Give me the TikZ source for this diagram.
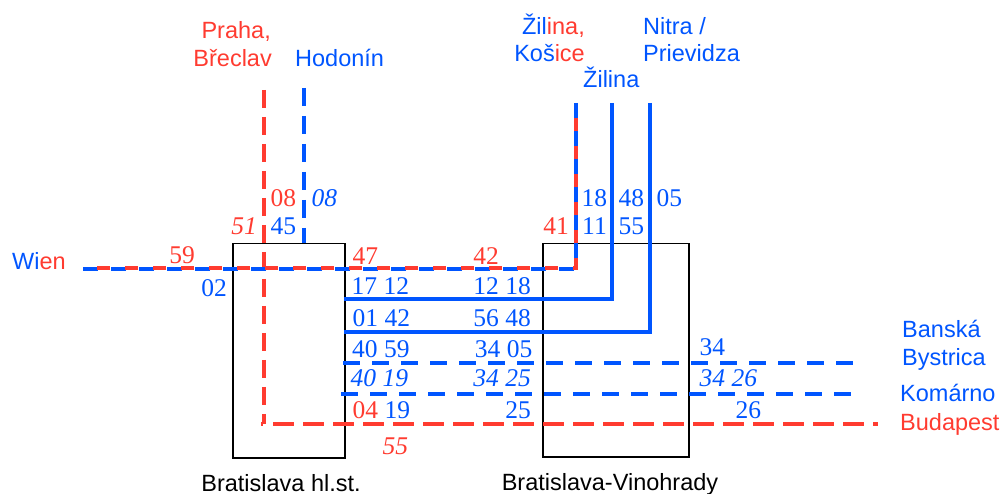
\documentclass[tikz,border=0pt]{standalone}
\usepackage{fontspec}
\setmainfont{Liberation Serif}
\newfontfamily\lab{Liberation Sans}
\definecolor{cr}{RGB}{255,59,48}
\definecolor{cb}{RGB}{0,85,255}
\begin{document}
\begin{tikzpicture}[x=1pt,y=-1pt,
  num/.style={inner sep=0pt,font=\fontsize{25.5}{26}\selectfont},
  inum/.style={num,font=\fontsize{25.5}{26}\selectfont\itshape},
  lbl/.style={inner sep=0pt,font=\lab\fontsize{23.5}{27}\selectfont},
  station/.style={draw=black,line width=1.5pt},
  track/.style={line width=4pt},
  dtrack/.style={line width=4pt,dash pattern=on 18pt off 10pt}]
\useasboundingbox (0,0) rectangle (1002,494);
% stations
\node[station,minimum width=112pt,minimum height=214pt,inner sep=0pt,anchor=north west] (hl) at (232,243) {};
\node[station,minimum width=146pt,minimum height=213pt,inner sep=0pt,anchor=north west] (vin) at (542,243) {};
% coordinates
\coordinate (praT) at (264,90);
\coordinate (praC) at (264,424);
\coordinate (budE) at (878,424);
\coordinate (hodT) at (304,88);
\coordinate (hodB) at (304,243);
\coordinate (wienW) at (76,269);
\coordinate (wienC) at (576,269);
\coordinate (kosT) at (576,103);
\coordinate (zilT) at (612,103);
\coordinate (zilC) at (612,299);
\coordinate (zilW) at (344,299);
\coordinate (nitT) at (650,103);
\coordinate (nitC) at (650,332);
\coordinate (nitW) at (344,332);
\coordinate (bbW) at (343,363);
\coordinate (bbE) at (862,363);
\coordinate (komW) at (341,394);
\coordinate (komE) at (861,394);
% tracks
\draw[cr,line width=4pt,dash pattern=on 18pt off 9pt] (praT) -- (praC);
\draw[cr,line width=4pt,dash pattern=on 21pt off 9pt,dash phase=-9pt] (praC) -- (budE);
\draw[cr,line width=4pt] ([xshift=-3pt]praC) -- ([xshift=-1.5pt]praC);
\draw[dtrack,cb] (hodT) -- (hodB);
\draw[track,cb] (zilT) -- (zilC) -- (zilW);
\draw[track,cb] (nitT) -- (nitC) -- (nitW);
\draw[cb,line width=4pt,dash pattern=on 17pt off 12pt] (bbW) -- (bbE);
\draw[cb,line width=4pt,dash pattern=on 17pt off 12pt] (komW) -- (komE);
\draw[line width=4pt,cb,dash pattern=on 15pt off 13pt] (kosT) -- (wienC) -- (wienW);
\draw[line width=4pt,cr,dash pattern=on 13pt off 15pt,dash phase=-15pt] (kosT) -- ([yshift=1pt]wienC) -- ([yshift=1pt,xshift=15pt]wienW);
% labels
\node[lbl,cr,anchor=base east] (praha) at (271,39) {Praha,};
\node[lbl,cr,anchor=base east] (brec) at (272,66.5) {Břeclav};
\node[lbl,cb,anchor=base west] (hod) at (295,66.5) {Hodonín};
\node[lbl,anchor=base east] (zil1) at (585,35) {\textcolor{cb}{Žil}\textcolor{cr}{ina,}};
\node[lbl,anchor=base east] (kos) at (585,62) {\textcolor{cb}{Koš}\textcolor{cr}{ice}};
\node[lbl,cb,anchor=base west] (zil2) at (583,88) {Žilina};
\node[lbl,cb,anchor=base west] (nit) at (643,35) {Nitra /};
\node[lbl,cb,anchor=base west] (pri) at (643,62) {Prievidza};
\node[lbl,anchor=base west] (wien) at (12,270) {\textcolor{cb}{Wi}\textcolor{cr}{en}};
\node[lbl,cb,anchor=base west] (ban) at (902,338) {Banská};
\node[lbl,cb,anchor=base west] (bys) at (902,366) {Bystrica};
\node[lbl,cb,anchor=base west] (kom) at (900,402) {Komárno};
\node[lbl,cr,anchor=base west] (bud) at (900,431) {Budapest};
\node[lbl,black,anchor=base] (hln) at (281,491) {Bratislava hl.st.};
\node[lbl,black,anchor=base] (vinn) at (610,490) {Bratislava-Vinohrady};
% times
\node[num,cr,anchor=base west] (t1) at (270.5,207) {08};
\node[inum,cb,anchor=base west] (t2) at (311.5,207) {08};
\node[inum,cr,anchor=base east] (t3) at (257,235) {51};
\node[num,cb,anchor=base west] (t4) at (270.5,235) {45};
\node[num,cr,anchor=base] (t5) at (182,264) {59};
\node[num,cb,anchor=base east] (t6) at (227,297) {02};
\node[num,cr,anchor=base west] (t7) at (352.5,265) {47};
\node[num,cr,anchor=base] (t8) at (486,265) {42};
\node[num,cb,anchor=base west] (t9) at (351.5,295) {17 12};
\node[num,cb,anchor=base east] (t10) at (531,295) {12 18};
\node[num,cb,anchor=base west] (t11) at (352.5,327) {01 42};
\node[num,cb,anchor=base east] (t12) at (531,327) {56 48};
\node[num,cb,anchor=base west] (t13) at (352,358) {40 59};
\node[num,cb,anchor=base east] (t14) at (532.5,358) {34 05};
\node[inum,cb,anchor=base west] (t15) at (350.5,387) {40 19};
\node[inum,cb,anchor=base east] (t16) at (531,387) {34 25};
\node[num,anchor=base west] (t17) at (352.5,418) {\textcolor{cr}{04} \textcolor{cb}{19}};
\node[num,cb,anchor=base east] (t18) at (531,418) {25};
\node[inum,cr,anchor=base west] (t19) at (382.5,454) {55};
\node[num,cr,anchor=base east] (t20) at (569,235) {41};
\node[num,cb,anchor=base west] (t21) at (582,235) {11};
\node[num,cb,anchor=base west] (t22) at (618.5,235) {55};
\node[num,cb,anchor=base west] (t23) at (581.5,207) {18};
\node[num,cb,anchor=base west] (t24) at (618.5,207) {48};
\node[num,cb,anchor=base west] (t25) at (656.5,207) {05};
\node[num,cb,anchor=base west] (t26) at (699.5,356) {34};
\node[inum,cb,anchor=base west] (t27) at (699.5,387) {34 26};
\node[num,cb,anchor=base west] (t28) at (735.5,418) {26};
\end{tikzpicture}
\end{document}
